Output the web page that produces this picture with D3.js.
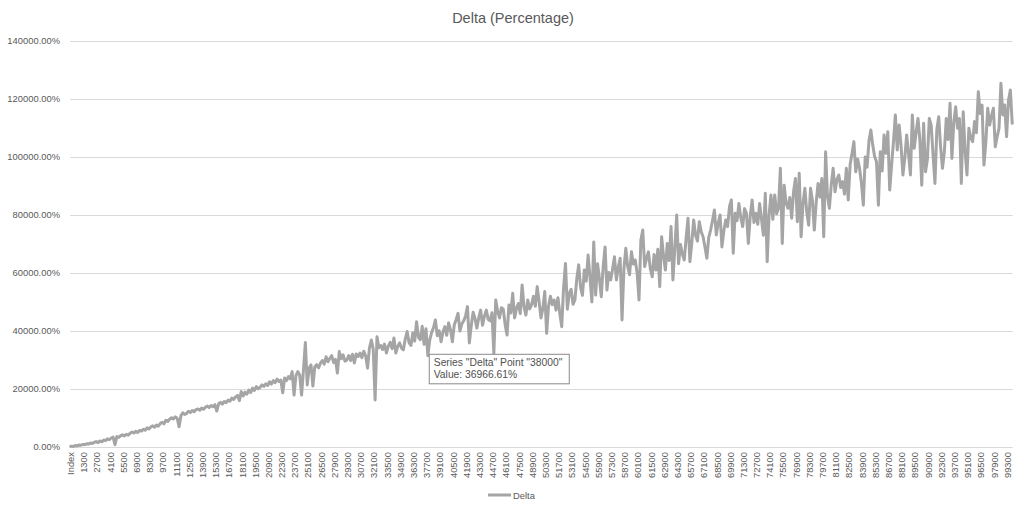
<!DOCTYPE html>
<html>
<head>
<meta charset="utf-8">
<script src="https://cdnjs.cloudflare.com/ajax/libs/d3/7.8.5/d3.min.js"></script>
<style>
  body { margin: 0; background: #fff; }
  svg text { font-family: "Liberation Sans", Arial, sans-serif; }
</style>
</head>
<body>
<div id="chart"></div>
<script>

var chartTitle = "Delta (Percentage)";
var seriesName = "Delta";

// category axis: the header row "Index" got in as a category, then 0..99800 step 100
var axisCategories = ["Index"].concat(d3.range(0, 99900, 100).map(String));
var xLabelStep = 14;

// sampled points (every 200), values in thousands of percent
var pointCategories = ["Index"].concat(d3.range(0, 99900, 200).map(String));
var deltaValues = [0.2,
  0.3, 0.2, 0.5, 0.4, 0.7, 0.6, 0.9, 0.8, 1.1, 1.0,
  1.4, 1.2, 1.6, 1.9, 1.5, 2.1, 1.8, 2.4, 2.2, 2.8,
  2.5, 3.1, 3.4, 0.8, 3.6, 3.3, 3.9, 4.2, 3.8, 4.4,
  4.1, 4.7, 5.2, 4.8, 5.4, 5.0, 5.7, 5.5, 6.1, 5.8,
  6.6, 6.2, 6.9, 7.3, 6.8, 7.6, 7.2, 8.1, 8.5, 8.0,
  9.2, 8.8, 9.6, 10.1, 9.7, 10.4, 9.9, 7.0, 10.8, 11.8,
  11.2, 11.6, 12.3, 11.9, 12.6, 12.2, 12.9, 13.1, 12.7, 13.4,
  13.0, 13.7, 14.1, 13.6, 14.3, 13.9, 14.6, 12.4, 14.9, 15.4,
  14.8, 15.7, 15.3, 16.2, 15.8, 16.9, 16.4, 17.3, 17.8, 16.0,
  19.1, 17.6, 18.9, 18.2, 19.6, 18.8, 20.3, 19.5, 20.8, 20.1,
  20.6, 21.4, 20.9, 21.8, 21.2, 22.5, 21.7, 22.9, 22.2, 23.4,
  22.6, 23.1, 18.7, 23.8, 22.9, 24.3, 23.5, 26.0, 17.9, 24.6,
  26.0, 24.8, 17.9, 26.5, 36.0, 21.4, 27.2, 28.3, 21.0, 27.6,
  28.4, 27.3, 28.9, 29.8, 28.6, 31.1, 29.4, 30.6, 31.5, 29.1,
  30.2, 25.5, 32.9, 30.4, 31.8, 29.6, 30.0, 31.5, 29.8, 32.0,
  29.0, 32.1, 31.2, 32.4, 30.8, 33.0, 31.4, 27.2, 34.1, 36.9,
  33.8, 16.2, 38.0, 34.2, 35.0, 33.6, 35.5, 32.4, 34.8, 36.1,
  33.9, 37.6, 32.4, 34.7, 35.9, 34.1, 33.5, 37.2, 39.8, 36.0,
  35.0, 39.3, 36.5, 43.2, 37.8, 37.0, 41.6, 35.4, 40.8, 31.5,
  36.96661, 39.5, 41.2, 43.8, 38.4, 40.1, 36.3, 39.7, 41.5, 38.5,
  42.8, 40.4, 36.3, 42.1, 44.0, 46.1, 40.0, 42.4, 43.5, 45.2,
  48.4, 35.9, 41.8, 46.5, 44.3, 41.0, 44.6, 47.2, 42.0, 45.1,
  47.2, 44.0, 43.5, 46.3, 32.3, 50.7, 46.8, 44.5, 48.0, 47.5,
  42.1, 38.6, 49.0, 46.2, 53.0, 44.5, 47.8, 49.5, 46.0, 55.9,
  48.3, 45.5, 50.7, 47.6, 49.0, 52.0, 48.5, 55.3, 50.2, 44.5,
  47.8, 53.6, 39.2, 48.5, 52.0, 49.1, 50.7, 47.2, 51.5, 46.0,
  41.5, 55.0, 63.3, 47.5, 53.0, 54.4, 49.2, 50.7, 58.0, 62.8,
  55.0, 52.3, 61.0, 57.2, 66.2, 58.5, 50.0, 70.7, 52.4, 63.2,
  58.1, 51.8, 62.3, 69.0, 54.1, 60.2, 57.6, 61.4, 65.6, 57.6,
  62.0, 65.1, 43.8, 61.5, 68.5, 62.2, 59.4, 67.3, 63.1, 64.5,
  60.1, 50.7, 71.4, 74.8, 62.2, 65.0, 67.3, 61.5, 58.7, 66.4,
  61.0, 68.2, 55.3, 72.5, 66.0, 61.0, 70.2, 64.3, 76.0, 57.6,
  68.4, 80.0, 63.2, 69.8, 66.5, 64.5, 72.0, 78.9, 63.9, 70.3,
  78.3, 73.0, 71.0, 77.7, 74.2, 72.5, 69.0, 65.1, 72.3, 74.8,
  78.1, 81.7, 73.1, 77.2, 80.0, 69.0, 74.5, 78.3, 76.0, 82.9,
  85.2, 66.8, 80.6, 78.0, 84.0, 79.1, 76.0, 82.2, 80.6, 70.2,
  79.5, 85.2, 77.4, 80.6, 76.8, 84.0, 78.5, 73.0, 87.5, 63.9,
  80.0, 86.9, 78.5, 86.9, 80.4, 82.3, 96.1, 70.2, 90.3, 84.2,
  82.3, 86.0, 78.9, 88.1, 92.6, 77.7, 94.4, 72.5, 84.0, 89.2,
  81.0, 76.5, 89.2, 85.0, 74.8, 84.4, 90.9, 86.2, 92.6, 72.5,
  101.8, 86.4, 82.3, 90.5, 96.1, 88.0, 92.2, 93.8, 89.5, 91.5,
  87.2, 96.1, 85.2, 97.4, 101.2, 105.3, 94.9, 99.3, 96.1, 91.0,
  83.4, 100.0, 96.5, 105.5, 109.3, 104.1, 100.2, 98.4, 83.4, 101.8,
  95.2, 107.6, 101.3, 108.7, 88.6, 97.1, 105.3, 114.5, 102.4, 111.0,
  104.2, 93.8, 99.5, 107.6, 101.0, 93.8, 114.5, 103.0, 108.4, 113.3,
  106.0, 90.3, 111.6, 94.9, 99.2, 113.3, 111.0, 100.7, 90.9, 109.4,
  113.9, 103.5, 96.1, 101.8, 113.3, 106.0, 118.5, 99.5, 112.0, 117.3,
  109.9, 113.3, 90.9, 115.6, 102.0, 93.8, 109.9, 106.5, 105.3, 112.2,
  108.4, 122.5, 115.0, 117.9, 97.2, 105.0, 116.8, 111.0, 114.2, 116.8,
  103.5, 107.0, 109.9, 125.4, 114.5, 117.9, 107.0, 119.5, 123.1, 111.6
];
var valueUnit = 1000;

var yTicks = [0, 20000, 40000, 60000, 80000, 100000, 120000, 140000];
var hoverCategory = "38000";


var width = 1024;
var height = 516;
var plot = { left: 70.2, right: 1012.7, top: 41, bottom: 447 };
var textColor = "#595959";
var lineColor = "#a5a5a5";

var points = pointCategories.map(function(c, i) {
  return { cat: c, value: deltaValues[i] * valueUnit };
});

var x = d3.scaleBand()
  .domain(axisCategories)
  .range([plot.left, plot.right])
  .padding(0);

var y = d3.scaleLinear()
  .domain([0, 140000])
  .range([plot.bottom, plot.top]);

var cx = function(c) { return x(c) + x.bandwidth() / 2; };

var svg = d3.select("#chart")
  .append("svg")
  .attr("width", width)
  .attr("height", height);

svg.append("rect")
  .attr("width", width)
  .attr("height", height)
  .attr("fill", "#fff");

//TITLE
svg.append("text")
  .attr("x", 513)
  .attr("y", 23)
  .attr("text-anchor", "middle")
  .style("font-size", "14.5px")
  .style("fill", textColor)
  .text(chartTitle);

//GRIDLINES + Y LABELS
svg.append("g")
  .selectAll("line")
  .data(yTicks)
  .enter().append("line")
  .attr("x1", plot.left)
  .attr("x2", plot.right)
  .attr("y1", function(d) { return Math.round(y(d)) + 0.5; })
  .attr("y2", function(d) { return Math.round(y(d)) + 0.5; })
  .style("stroke", "#d9d9d9")
  .style("stroke-width", 1);

svg.append("g")
  .selectAll("text")
  .data(yTicks)
  .enter().append("text")
  .attr("x", 60)
  .attr("y", function(d) { return y(d); })
  .attr("dy", "0.35em")
  .attr("text-anchor", "end")
  .style("font-size", "9.4px")
  .style("fill", textColor)
  .text(function(d) { return d.toFixed(2) + "%"; });

//X LABELS
svg.append("g")
  .selectAll("text")
  .data(axisCategories.filter(function(d, i) { return i % xLabelStep == 0; }))
  .enter().append("text")
  .attr("transform", function(d) { return "translate(" + cx(d) + "," + (plot.bottom + 5) + ") rotate(-90)"; })
  .attr("dy", "0.35em")
  .attr("text-anchor", "end")
  .style("font-size", "9.4px")
  .style("fill", textColor)
  .text(function(d) { return d; });

//LINE
var line = d3.line()
  .x(function(d) { return cx(d.cat); })
  .y(function(d) { return y(d.value); });

svg.append("path")
  .datum(points)
  .attr("d", line)
  .style("fill", "none")
  .style("stroke", lineColor)
  .style("stroke-width", 3)
  .style("stroke-linejoin", "round")
  .style("stroke-linecap", "round");

//TOOLTIP
var hover = points.filter(function(d) { return d.cat == hoverCategory; })[0];
var tip = svg.append("g")
  .attr("transform", "translate(" + (cx(hover.cat) - 0.5) + "," + (y(hover.value) + 14.5) + ")");

tip.append("rect")
  .attr("width", 140)
  .attr("height", 29.5)
  .style("fill", "#fff")
  .style("stroke", "#8a8a8a")
  .style("stroke-width", 1);

tip.append("text")
  .attr("x", 4.5)
  .attr("y", 12)
  .style("font-size", "10.3px")
  .style("fill", "#505050")
  .text('Series "' + seriesName + '" Point "' + hover.cat + '"');

tip.append("text")
  .attr("x", 4.5)
  .attr("y", 23.5)
  .style("font-size", "10.3px")
  .style("fill", "#505050")
  .text("Value: " + hover.value.toFixed(2) + "%");

//LEGEND
svg.append("line")
  .attr("x1", 488)
  .attr("x2", 511)
  .attr("y1", 495)
  .attr("y2", 495)
  .style("stroke", lineColor)
  .style("stroke-width", 3);

svg.append("text")
  .attr("x", 513)
  .attr("y", 498.5)
  .style("font-size", "9.4px")
  .style("fill", textColor)
  .text(seriesName);

</script>
</body>
</html>
